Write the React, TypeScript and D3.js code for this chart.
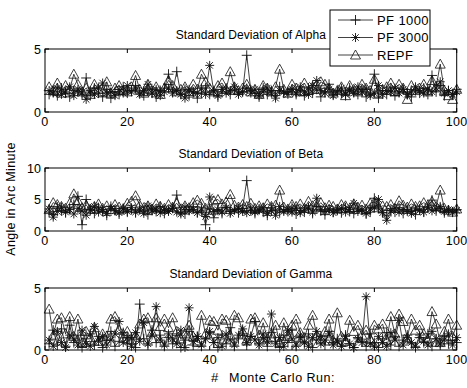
import React from "react";
import * as d3 from "d3";

const runs = d3.range(1, 101);

const alphaPF1000 = [
  1.4,1.6,1.3,1.9,1.5,1.2,1.7,1.6,1.4,2.7,
  1.3,1.9,1.5,1.2,1.8,1.1,1.6,1.4,2.0,1.5,
  1.7,2.1,1.6,1.3,1.8,1.5,1.2,1.7,1.9,3.0,
  1.6,3.2,1.4,1.8,1.3,1.6,1.1,1.5,1.9,1.4,
  1.7,1.2,1.6,1.9,1.4,1.8,1.5,1.6,4.5,1.7,
  1.5,1.2,1.9,1.4,1.7,1.3,2.0,1.5,1.6,1.8,
  1.4,1.7,1.3,1.9,1.5,1.8,1.2,1.6,2.2,1.4,
  1.7,1.5,1.3,1.9,1.6,1.4,1.8,1.2,1.5,3.0,
  1.1,1.7,1.4,1.9,1.3,1.6,1.8,1.5,1.2,1.7,
  1.5,1.9,1.4,2.9,1.6,2.1,1.3,1.7,1.4,1.8,
];
const alphaPF3000 = [
  1.7,1.5,1.9,1.4,1.6,2.0,1.3,1.8,1.5,1.0,
  1.7,1.4,1.9,2.3,1.5,1.6,1.3,1.8,1.5,2.1,
  1.6,1.9,1.4,1.7,2.2,1.5,1.8,1.3,1.6,1.9,
  1.5,1.7,1.4,1.1,1.8,1.6,1.5,1.9,1.4,3.7,
  1.6,1.3,1.8,1.5,1.7,2.0,1.4,1.6,1.9,1.5,
  1.8,1.3,1.6,1.9,1.5,1.1,1.7,1.6,1.4,1.8,
  1.5,2.0,1.6,1.4,2.1,2.5,1.7,1.5,1.8,1.3,
  1.6,1.9,1.4,1.7,1.5,2.0,1.6,1.8,1.3,1.5,
  2.1,1.4,1.7,1.6,1.9,1.5,1.8,1.4,1.6,2.0,
  1.7,1.5,1.8,1.6,1.9,2.4,1.5,1.7,1.4,1.6,
];
const alphaREPF = [
  2.0,1.7,2.3,1.5,2.1,1.8,3.0,2.2,1.6,1.9,
  1.4,2.2,1.8,1.6,2.4,1.5,1.9,2.1,1.7,1.6,
  2.0,2.9,1.8,1.5,2.2,1.7,2.0,1.4,1.9,2.5,
  2.1,1.6,1.8,2.0,1.5,2.2,1.8,3.0,2.4,1.9,
  1.6,2.1,2.3,1.8,3.2,2.0,1.7,1.9,2.2,1.6,
  1.8,1.4,2.1,1.9,1.6,2.0,3.4,1.8,1.5,2.2,
  1.9,1.6,2.3,1.7,2.0,1.8,2.4,2.2,1.9,1.5,
  1.7,2.0,1.3,2.1,1.8,1.6,2.2,1.9,1.7,2.6,
  1.5,1.8,2.0,2.3,1.6,2.2,1.9,1.0,2.1,1.7,
  1.9,2.2,1.6,2.5,2.0,3.8,1.7,1.3,1.0,1.8,
];

const betaPF1000 = [
  3.0,2.6,3.8,3.2,2.9,3.5,4.2,5.5,1.0,5.0,
  3.4,2.8,3.7,3.1,2.5,3.9,3.3,2.7,3.6,3.0,
  3.4,2.9,3.8,3.2,2.6,3.5,3.1,3.9,2.8,3.3,
  3.6,5.7,3.0,2.7,3.4,3.8,2.9,3.2,1.0,3.5,
  2.1,3.3,2.8,3.7,3.1,3.4,2.9,3.6,8.0,3.2,
  2.8,3.5,3.0,2.5,3.7,3.2,2.9,3.4,3.1,3.8,
  2.7,3.3,3.0,3.6,2.8,3.9,3.2,2.6,3.5,3.0,
  3.4,2.9,3.7,3.1,2.8,3.5,3.3,2.7,3.0,5.2,
  3.6,2.9,2.4,3.3,3.0,3.7,2.8,3.4,3.1,2.6,
  3.5,3.0,3.8,4.9,3.2,3.6,2.9,3.3,3.0,3.4,
];
const betaPF3000 = [
  3.5,2.2,3.1,3.8,3.0,3.4,2.7,3.6,3.2,2.5,
  3.3,3.9,3.0,3.4,2.8,3.6,3.2,2.9,3.5,3.1,
  3.7,3.0,3.3,2.8,4.0,3.2,3.5,2.9,3.4,3.1,
  3.6,3.0,2.7,3.8,3.2,3.4,2.9,3.5,2.3,5.4,
  3.1,3.4,3.0,3.7,2.8,3.3,3.6,3.1,2.9,3.5,
  3.0,3.3,3.7,2.8,3.2,2.5,3.9,3.1,3.4,3.0,
  3.6,2.9,3.3,3.8,3.0,5.2,3.4,3.1,3.5,2.9,
  3.2,3.6,3.0,3.4,4.4,3.1,3.3,2.8,3.5,3.7,
  5.0,2.9,1.7,3.2,3.6,3.0,3.4,3.1,2.8,3.5,
  3.3,3.0,3.7,3.2,3.5,3.9,3.1,3.4,3.0,3.3,
];
const betaREPF = [
  3.4,4.5,4.2,3.9,3.6,4.4,5.9,4.8,3.7,4.1,
  3.5,3.9,4.3,3.6,4.0,3.4,4.2,3.8,3.5,4.4,
  4.7,5.6,4.1,3.7,4.0,3.5,4.3,3.9,3.6,4.2,
  3.8,4.4,3.5,4.0,3.7,4.5,4.9,4.4,3.6,3.3,
  4.8,5.0,4.3,4.6,5.8,4.1,3.8,4.2,3.9,4.4,
  3.6,4.0,3.7,4.3,3.9,4.1,6.5,3.8,3.5,4.2,
  3.9,4.3,3.6,4.7,4.0,3.8,4.5,3.7,4.1,3.9,
  3.5,4.2,4.0,3.6,4.3,3.8,4.1,3.5,4.4,4.6,
  3.7,4.0,3.9,4.2,3.6,4.8,4.1,3.8,4.3,3.9,
  4.0,4.5,4.1,4.7,3.9,6.5,3.6,3.3,3.0,3.5,
];

const gammaPF1000 = [
  0.5,1.6,0.4,1.7,0.3,2.0,0.6,1.2,0.2,0.9,
  1.3,0.4,1.1,0.2,0.8,1.5,0.3,0.7,1.4,0.5,
  1.0,0.2,3.7,0.9,0.4,1.6,0.6,1.2,0.3,1.0,
  0.5,1.3,0.2,0.8,1.5,0.4,1.1,0.3,0.9,1.4,
  0.6,0.2,1.2,0.5,1.8,0.3,0.9,1.3,0.4,1.1,
  2.3,0.5,1.0,0.3,1.4,0.7,0.2,1.2,0.6,1.6,
  0.3,1.0,0.5,1.3,0.2,0.8,1.1,0.4,1.5,0.6,
  0.9,0.3,1.2,0.5,0.2,1.0,0.7,0.3,1.3,0.6,
  0.2,0.9,1.4,0.4,1.1,0.3,0.8,1.2,0.5,0.2,
  1.0,0.6,1.3,0.3,0.9,0.4,1.1,0.5,0.8,0.6,
];
const gammaPF3000 = [
  0.8,0.3,1.5,0.6,0.2,1.2,0.9,0.4,1.6,0.5,
  0.3,1.9,0.7,1.1,0.4,0.8,1.3,2.3,0.6,1.0,
  0.3,1.4,0.7,2.2,0.5,1.2,3.5,0.8,0.4,1.3,
  0.9,0.5,1.6,0.2,3.4,0.7,1.1,0.4,0.9,1.5,
  0.6,1.0,0.3,1.3,0.8,0.4,1.2,1.7,0.6,1.1,
  0.8,0.4,1.3,0.7,2.9,0.5,1.0,0.3,1.6,0.9,
  0.4,1.2,0.6,0.3,1.0,1.5,0.5,0.8,1.3,0.4,
  0.7,0.3,1.1,0.5,0.2,0.9,0.6,4.3,0.5,0.3,
  1.1,0.6,0.3,1.4,0.8,2.4,0.4,1.0,0.6,0.3,
  1.2,0.7,0.4,1.5,0.9,0.5,0.8,1.3,0.4,1.0,
];
const gammaREPF = [
  3.3,1.2,2.5,2.6,1.3,2.7,1.1,2.5,0.6,1.5,
  1.0,1.8,0.7,1.3,1.1,2.5,2.7,1.6,1.3,1.5,
  0.8,1.2,2.1,2.5,2.6,1.4,2.6,1.9,2.5,1.8,
  2.6,1.5,0.9,1.3,2.0,1.1,0.6,2.8,1.3,2.4,
  2.3,1.6,2.5,2.4,1.2,2.8,2.6,1.5,0.8,2.5,
  2.6,1.2,2.2,0.9,1.3,2.0,0.6,2.2,1.1,2.0,
  2.5,1.4,1.0,2.0,2.8,1.2,0.9,1.5,2.5,0.8,
  3.0,1.1,0.7,2.4,1.5,2.0,1.2,1.6,0.9,2.0,
  1.7,2.1,0.8,2.7,1.3,2.9,2.3,1.0,2.5,1.6,
  2.0,1.3,0.9,3.1,2.1,0.6,1.5,2.5,1.1,2.0,
];

const seriesNames = ["PF 1000", "PF 3000", "REPF"];
const markerTypes = ["plus", "star", "triangle"];
const xTicks = [0, 20, 40, 60, 80, 100];

const panels = [
  { title: "Standard Deviation of Alpha", yMax: 5, yTicks: [0, 5], data: [alphaPF1000, alphaPF3000, alphaREPF] },
  { title: "Standard Deviation of Beta", yMax: 10, yTicks: [0, 5, 10], data: [betaPF1000, betaPF3000, betaREPF] },
  { title: "Standard Deviation of Gamma", yMax: 5, yTicks: [0, 5], data: [gammaPF1000, gammaPF3000, gammaREPF] },
];

const panelBoxes = [
  { top: 49, bottom: 112 },
  { top: 168, bottom: 231 },
  { top: 288, bottom: 350 },
];

const FONT = "'Liberation Sans', Arial, Helvetica, sans-serif";
const INK = "#111";

function Marker({ type, x, y }: { type: string; x: number; y: number }) {
  const s = 5;
  if (type === "plus") {
    return <path d={`M${x - s},${y}H${x + s}M${x},${y - s}V${y + s}`} stroke={INK} strokeWidth={0.9} fill="none" />;
  }
  if (type === "star") {
    const r = 4.5;
    const d = r * 0.72;
    return (
      <path
        d={`M${x - r},${y}H${x + r}M${x},${y - r}V${y + r}M${x - d},${y - d}L${x + d},${y + d}M${x - d},${y + d}L${x + d},${y - d}`}
        stroke={INK}
        strokeWidth={0.9}
        fill="none"
      />
    );
  }
  const t = 5;
  return <path d={`M${x},${y - t}L${x + t},${y + t * 0.8}L${x - t},${y + t * 0.8}Z`} stroke={INK} strokeWidth={0.8} fill="none" />;
}

export default function App() {
  const x = d3.scaleLinear().domain([0, 100]).range([45, 456.7]);

  return (
    <svg width={467} height={388} style={{ position: "absolute", left: 0, top: 0, background: "#fff" }} fontFamily={FONT}>
      <rect x={0} y={0} width={467} height={388} fill="#fff" />
      {panels.map((p, pi) => {
        const box = panelBoxes[pi];
        const y = d3.scaleLinear().domain([0, p.yMax]).range([box.bottom, box.top]);
        const line = d3
          .line<number>()
          .x((_, i) => x(runs[i]))
          .y((v) => y(v));
        return (
          <g key={pi}>
            <text x={(x(0) + x(100)) / 2} y={box.top - 10.5} textAnchor="middle" fontSize={12} letterSpacing={0.05} fill="#000">
              {p.title}
            </text>
            {p.data.map((arr, si) => (
              <g key={si}>
                <path d={line(arr) || ""} fill="none" stroke={INK} strokeWidth={0.8} />
                {arr.map((v, i) => (
                  <Marker key={i} type={markerTypes[si]} x={x(runs[i])} y={y(v)} />
                ))}
              </g>
            ))}
            <rect x={x(0)} y={box.top} width={x(100) - x(0)} height={box.bottom - box.top} fill="none" stroke="#000" strokeWidth={1} />
            {xTicks.map((t) => (
              <g key={t}>
                <line x1={x(t)} x2={x(t)} y1={box.bottom} y2={box.bottom - 4} stroke="#000" strokeWidth={1} />
                <line x1={x(t)} x2={x(t)} y1={box.top} y2={box.top + 4} stroke="#000" strokeWidth={1} />
                <text x={x(t)} y={box.bottom + 14} textAnchor="middle" fontSize={12.5} letterSpacing={0.3} fill="#000">
                  {t}
                </text>
              </g>
            ))}
            {p.yTicks.map((t) => (
              <g key={t}>
                <line x1={x(0)} x2={x(0) + 4} y1={y(t)} y2={y(t)} stroke="#000" strokeWidth={1} />
                <line x1={x(100)} x2={x(100) - 4} y1={y(t)} y2={y(t)} stroke="#000" strokeWidth={1} />
                <text x={x(0) - 4} y={y(t) + 4.5} textAnchor="end" fontSize={12.5} fill="#000">
                  {t}
                </text>
              </g>
            ))}
          </g>
        );
      })}
      <text transform="translate(15,199) rotate(-90)" textAnchor="middle" fontSize={12.5} letterSpacing={0.3} fill="#000">
        Angle in Arc Minute
      </text>
      <text x={211} y={382} fontSize={13} fill="#000">
        #
      </text>
      <text x={229} y={382} fontSize={12.5} letterSpacing={0.5} fill="#000">
        Monte Carlo Run:
      </text>
      <g>
        <rect x={330} y={10} width={100} height={56} fill="#fff" stroke="#000" strokeWidth={1} />
        {seriesNames.map((name, i) => {
          const ly = 20 + i * 17.5;
          return (
            <g key={name}>
              <line x1={338} x2={373} y1={ly} y2={ly} stroke={INK} strokeWidth={0.8} />
              <Marker type={markerTypes[i]} x={355.5} y={ly} />
              <text x={377} y={ly + 4.5} fontSize={13} letterSpacing={0.4} fill="#000">
                {name}
              </text>
            </g>
          );
        })}
      </g>
    </svg>
  );
}
